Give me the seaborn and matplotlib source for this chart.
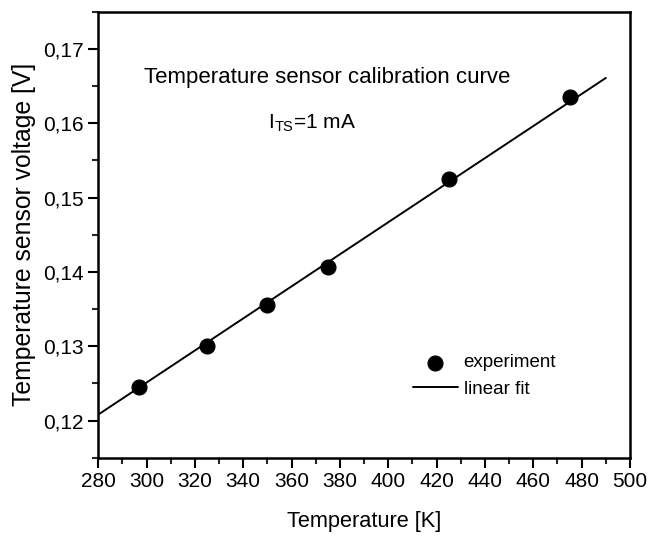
import pandas as pd
import matplotlib.pyplot as plt
import seaborn as sns
from matplotlib.ticker import MultipleLocator, FuncFormatter

temperature = [297, 325, 350, 375, 425, 475]
voltage = [0.1245, 0.1300, 0.1355, 0.1406, 0.1525, 0.1635]

fit_temperature = [280, 490]
fit_voltage = [0.1208, 0.1661]

sns.set_style("ticks")
plt.rcParams["font.family"] = ["Liberation Sans", "DejaVu Sans"]
plt.rcParams["text.color"] = "black"
plt.rcParams["axes.labelcolor"] = "black"

df = pd.DataFrame({"Temperature": temperature, "Voltage": voltage})
df_fit = pd.DataFrame({"Temperature": fit_temperature, "Voltage": fit_voltage})

fig, ax = plt.subplots(figsize=(6.59, 5.36), dpi=100)
fig.subplots_adjust(left=0.149, right=0.956, top=0.978, bottom=0.146)

sns.lineplot(data=df_fit, x="Temperature", y="Voltage", color="black",
             linewidth=1.4, ax=ax, label="linear fit")
sns.scatterplot(data=df, x="Temperature", y="Voltage", color="black",
                s=115, edgecolor="black", ax=ax, label="experiment", zorder=3)

ax.set_xlim(280, 500)
ax.set_ylim(0.115, 0.175)
ax.xaxis.set_major_locator(MultipleLocator(20))
ax.xaxis.set_minor_locator(MultipleLocator(10))
ax.yaxis.set_major_locator(MultipleLocator(0.01))
ax.yaxis.set_minor_locator(MultipleLocator(0.005))
ax.yaxis.set_major_formatter(FuncFormatter(lambda v, p: f"{v:.2f}".replace(".", ",")))

ax.tick_params(which="major", direction="out", length=7, width=1.5, labelsize=15, colors="black")
ax.tick_params(which="minor", direction="out", length=4, width=1.5)
ax.tick_params(axis="x", which="both", top=False)
for side in ["top", "right", "bottom", "left"]:
    ax.spines[side].set_visible(True)
    ax.spines[side].set_linewidth(1.8)
    ax.spines[side].set_color("black")

ax.set_xlabel("Temperature [K]", fontsize=15.7, labelpad=14)
ax.set_ylabel("Temperature sensor voltage [V]", fontsize=17.8, labelpad=5)

ax.text(374.7, 0.1661, "Temperature sensor calibration curve", fontsize=16, ha="center", va="center")
ax.text(368.5, 0.1600, r"I$_{\mathregular{TS}}$=1 mA", fontsize=15, ha="center", va="center")

handles, labels = ax.get_legend_handles_labels()
order = [labels.index("experiment"), labels.index("linear fit")]
ax.legend([handles[i] for i in order], [labels[i] for i in order],
          loc="center left", bbox_to_anchor=(0.56, 0.183), frameon=False,
          fontsize=13.5, handlelength=2.4, handletextpad=0.3, labelspacing=0.5)

plt.savefig("out.png", dpi=100)
